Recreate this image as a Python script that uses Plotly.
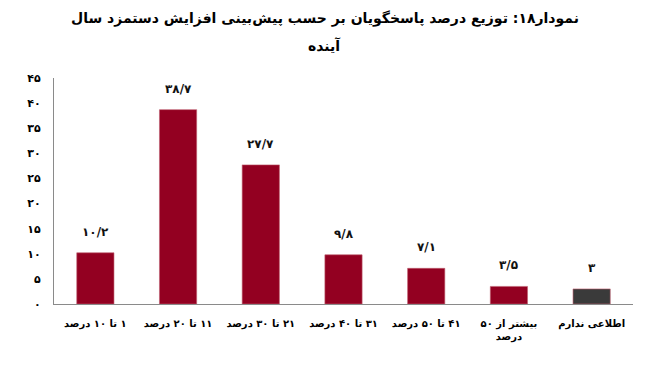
import plotly.graph_objects as go

RLE, PDF = "\u202B", "\u202C"

categories = ["۱ تا ۱۰ درصد", "۱۱ تا ۲۰ درصد", "۲۱ تا ۳۰ درصد", "۳۱ تا ۴۰ درصد",
              "۴۱ تا ۵۰ درصد", "بیشتر از ۵۰<br>درصد", "اطلاعی ندارم"]
values = [10.2, 38.7, 27.7, 9.8, 7.1, 3.5, 3]
value_labels = ["۱۰/۲", "۳۸/۷", "۲۷/۷", "۹/۸", "۷/۱", "۳/۵", "۳"]
bar_colors = ["#930021"] * 6 + ["#3a3a3a"]
y_tickvals = [0, 5, 10, 15, 20, 25, 30, 35, 40, 45]
y_ticktext = ["۰", "۵", "۱۰", "۱۵", "۲۰", "۲۵", "۳۰", "۳۵", "۴۰", "۴۵"]
title_lines = ["نمودار۱۸: توزیع درصد پاسخگویان بر حسب پیش‌بینی افزایش دستمزد سال", "آینده"]

FONT = "DejaVu Sans"


def rtl(s):
    return "<br>".join("<b>" + RLE + part + PDF + "</b>" for part in s.split("<br>"))


cat_text = [rtl(c) for c in categories]

fig = go.Figure(go.Bar(
    x=list(range(len(categories))), y=values,
    marker=dict(color=bar_colors, line=dict(color="#c06070", width=0.6)),
    width=0.45,
    hoverinfo="skip",
))

for i, (v, t) in enumerate(zip(values, value_labels)):
    fig.add_annotation(x=i, y=v, text=rtl(t), showarrow=False,
                       yanchor="bottom", yshift=12,
                       font=dict(family=FONT, size=12, color="#111"))

for ty, line in zip([1.265, 1.146], title_lines):
    fig.add_annotation(xref="paper", yref="paper", x=0.468, y=ty, text=rtl(line),
                       showarrow=False, xanchor="center", yanchor="middle",
                       font=dict(family=FONT, size=14, color="#000"))

fig.update_layout(
    width=650, height=373,
    margin=dict(l=46, r=25, t=70, b=77),
    paper_bgcolor="white", plot_bgcolor="white",
    showlegend=False,
    font=dict(family=FONT, color="#000"),
)
fig.update_xaxes(showline=True, linecolor="#8a8a8a", linewidth=1,
                 range=[-0.5, len(categories) - 0.5],
                 tickvals=list(range(len(categories))), ticktext=cat_text,
                 ticks="", showgrid=False, automargin=False, ticklabelstandoff=10,
                 tickfont=dict(family=FONT, size=10, color="#000"))
fig.update_yaxes(range=[0, 45], showline=True, linecolor="#8a8a8a", linewidth=1,
                 tickvals=y_tickvals, ticktext=[rtl(s) for s in y_ticktext],
                 ticks="", showgrid=False, zeroline=False, automargin=False,
                 tickfont=dict(family=FONT, size=11, color="#000"), ticklabelstandoff=10)

fig.write_html("out.html")
